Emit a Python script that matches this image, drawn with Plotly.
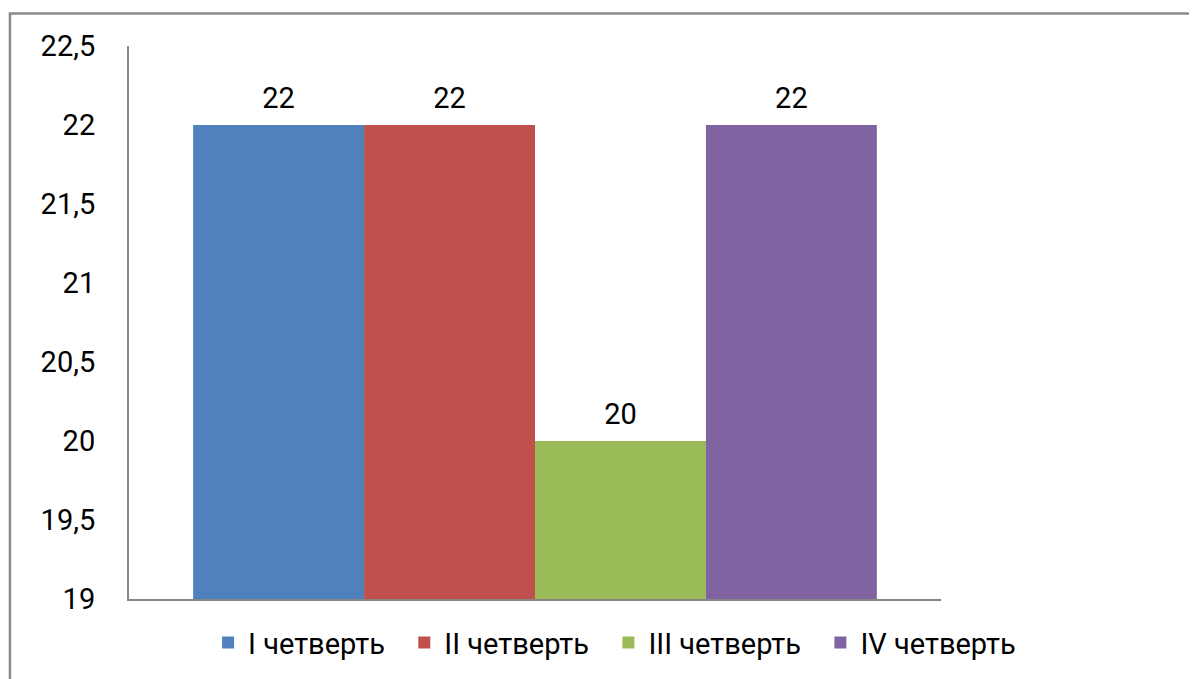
import plotly.graph_objects as go

series = ["I четверть", "II четверть", "III четверть", "IV четверть"]
values = [22, 22, 20, 22]
colors = ["#4F81BD", "#C0504D", "#9BBB59", "#8064A2"]
category = [""]

FONT = "Roboto"
FS = 29
PAD = "\u00a0\u00a0"

fig = go.Figure()
for i, (name, v, c) in enumerate(zip(series, values, colors)):
    fig.add_trace(go.Bar(
        x=category, y=[v], name=name + (PAD if i < len(series) - 1 else ""),
        marker=dict(color=c, line=dict(width=0)),
        showlegend=True,
    ))
for name, v in zip(series, values):
    fig.add_trace(go.Scatter(
        x=category, y=[v], mode="markers+text", text=[str(v)],
        textposition="top center", marker=dict(size=14, opacity=0),
        textfont=dict(family=FONT, size=FS, color="#000000"),
        showlegend=False, hoverinfo="skip", cliponaxis=False,
    ))

fig.update_layout(
    width=1190, height=672,
    margin=dict(l=121, r=257, t=38, b=79),
    paper_bgcolor="white", plot_bgcolor="white",
    barmode="group", bargap=0.158, bargroupgap=0,
    scattermode="group", scattergap=0.158,
    separators=", ",
    font=dict(family=FONT, size=FS, color="#000000"),
    xaxis=dict(showticklabels=False, showgrid=False, zeroline=False, ticks="",
               showline=True, linecolor="#868686", linewidth=2),
    yaxis=dict(range=[19, 22.5], dtick=0.5, showgrid=False, zeroline=False,
               ticks="", showline=True, linecolor="#868686", linewidth=2,
               ticklabelstandoff=26, tickfont=dict(family=FONT, size=FS)),
    legend=dict(orientation="h", x=0.598, xanchor="center", y=-0.079, yanchor="middle",
                font=dict(family=FONT, size=FS), traceorder="normal"),
    shapes=[dict(type="rect", xref="paper", yref="paper",
                 x0=-0.1466, x1=1.314, y0=-0.2, y1=1.0586,
                 line=dict(color="#8A8A8A", width=2.5), layer="below")],
)

fig.write_html("out.html")
